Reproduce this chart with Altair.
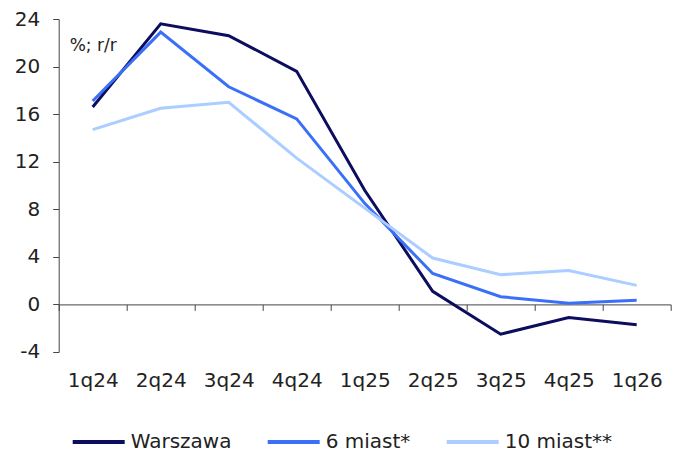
import altair as alt
import pandas as pd

quarters = ["1q24", "2q24", "3q24", "4q24", "1q25", "2q25", "3q25", "4q25", "1q26"]
warszawa = [16.6, 23.6, 22.6, 19.6, 9.6, 1.1, -2.5, -1.1, -1.7]
miast6 = [17.1, 22.9, 18.3, 15.6, 8.5, 2.6, 0.65, 0.1, 0.35]
miast10 = [14.7, 16.5, 17.0, 12.3, 8.1, 3.9, 2.5, 2.85, 1.6]
series_names = ["Warszawa", "6 miast*", "10 miast**"]
series_colors = ["#0c0d5e", "#3a6ff7", "#abcdff"]

rows = []
for name, vals in zip(series_names, [warszawa, miast6, miast10]):
    for q, v in zip(quarters, vals):
        rows.append({"q": q, "v": v, "s": name})
df = pd.DataFrame(rows)

FONT = "DejaVu Sans"
TXT = "#222222"
AX = "#444444"

lines = alt.Chart(df).mark_line(strokeWidth=3).encode(
    x=alt.X("q:N", sort=quarters, bandPosition=0.5,
            scale=alt.Scale(type="band", paddingInner=0, paddingOuter=0),
            axis=alt.Axis(title=None, labelAngle=0, tickBand="extent", offset=-47.6,
                          domainColor=AX, tickColor=AX, tickSize=6,
                          labelPadding=60, labelFontSize=20, labelColor=TXT,
                          labelFont=FONT, grid=False)),
    y=alt.Y("v:Q", scale=alt.Scale(domain=[-4, 24], nice=False, zero=False),
            axis=alt.Axis(title=None, values=[-4, 0, 4, 8, 12, 16, 20, 24],
                          labelExpr="datum.value + ''",
                          tickSize=6, labelPadding=13, labelFontSize=20,
                          labelColor=TXT, labelFont=FONT, grid=False,
                          domainColor=AX, tickColor=AX)),
    color=alt.Color("s:N", scale=alt.Scale(domain=series_names, range=series_colors),
                    legend=alt.Legend(title=None, orient="none", legendX=12, legendY=395,
                                      direction="horizontal", symbolType="stroke",
                                      symbolSize=2704, symbolStrokeWidth=4,
                                      labelFontSize=20, labelFont=FONT, labelColor=TXT,
                                      labelOffset=4, columnPadding=28)),
    order=alt.value(0),
)

unit = alt.Chart(pd.DataFrame({"t": ["%; r/r"]})).mark_text(
    align="left", baseline="middle", fontSize=17, font=FONT, color=TXT
).encode(x=alt.value(11), y=alt.value(27), text="t:N")

chart = alt.layer(lines, unit).properties(
    width=612, height=333,
    autosize=alt.AutoSizeParams(type="none"),
    padding={"left": 50.7, "top": 11, "right": 2, "bottom": 100},
).configure_view(stroke=None)

chart.save("out.html", embed_options={"renderer": "svg", "actions": False})
